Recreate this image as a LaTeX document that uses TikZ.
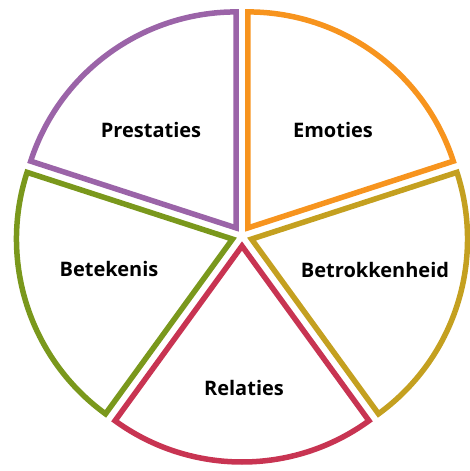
\documentclass[tikz,border=0pt]{standalone}
\usepackage{fontspec}
\setmainfont{Open Sans}
\usepackage{xcolor}
\usetikzlibrary{math}
\definecolor{mypurple}{RGB}{155,100,168}
\definecolor{myorange}{RGB}{247,148,30}
\definecolor{mymustard}{RGB}{196,160,32}
\definecolor{mygreen}{RGB}{122,152,28}
\definecolor{myred}{RGB}{200,52,82}

\begin{document}
\begin{tikzpicture}[x=1pt,y=1pt,
  slicetext/.style={font=\fontsize{20}{24}\selectfont\bfseries, text=black}]
\tikzmath{
\R=216;
\d=10;
}
\useasboundingbox (-242,-235) rectangle (227,236);

% slices, each pushed out along its middle
\foreach \a/\col in {18/myorange, -54/mymustard, -126/myred, 162/mygreen, 90/mypurple}{
  \draw[\col, line width=5.5, line join=miter] (\a+36:\d) -- ++(\a:\R) arc (\a:\a+72:\R) -- cycle;
}

\node[slicetext] (prestaties) at (-91,106) {Prestaties};
\node[slicetext] (emoties) at (91,106) {Emoties};
\node[slicetext] (betekenis) at (-133,-33) {Betekenis};
\node[slicetext] (betrokkenheid) at (133,-34) {Betrokkenheid};
\node[slicetext] (relaties) at (2,-152) {Relaties};
\end{tikzpicture}
\end{document}
